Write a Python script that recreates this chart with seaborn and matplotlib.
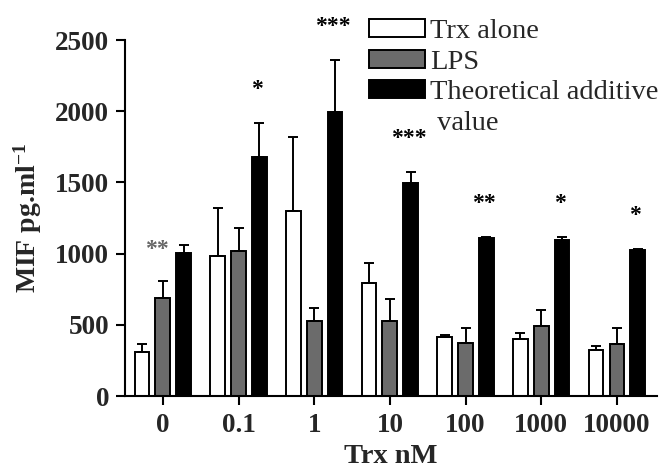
import pandas as pd
import seaborn as sns
import matplotlib.pyplot as plt
from matplotlib.patches import Patch


concentrations = ["0", "0.1", "1", "10", "100", "1000", "10000"]
groups = ["Trx alone", "LPS", "Theoretical additive"]
legend_extra = " value"

trx_alone = [311, 983, 1299, 791, 417, 400, 325]
trx_alone_err = [52, 339, 520, 141, 9, 40, 28]
lps = [690, 1018, 527, 527, 374, 492, 367]
lps_err = [115, 164, 89, 154, 106, 114, 113]
additive = [1006, 1680, 1996, 1493, 1107, 1096, 1025]
additive_err = [52, 235, 364, 82, 8, 21, 6]

stars = ["**", "*", "***", "***", "**", "*", "*"]


sns.set_theme(style="ticks")
plt.rcParams["font.family"] = ["Liberation Serif", "DejaVu Serif"]
plt.rcParams["mathtext.fontset"] = "custom"
plt.rcParams["mathtext.rm"] = "Liberation Serif:bold"
plt.rcParams["mathtext.it"] = "Liberation Serif:bold"
plt.rcParams["mathtext.bf"] = "Liberation Serif:bold"

df = pd.DataFrame({
    "conc": concentrations * 3,
    "MIF": trx_alone + lps + additive,
    "group": [groups[0]] * 7 + [groups[1]] * 7 + [groups[2]] * 7,
})
errors = [trx_alone_err, lps_err, additive_err]
colors = ["white", "#6b6b6b", "black"]

fig = plt.figure(figsize=(6.7, 4.72), dpi=100)
ax = fig.add_axes([0.1866, 0.161, 0.794, 0.754])

sns.barplot(data=df, x="conc", y="MIF", hue="group", palette=colors,
            order=concentrations, hue_order=groups, width=0.825, gap=0.29,
            edgecolor="black", linewidth=1.4, errorbar=None, ax=ax)

# upper error bars only
for cont, err in zip(ax.containers, errors):
    xs = [p.get_x() + p.get_width() / 2 for p in cont.patches]
    ys = [p.get_height() for p in cont.patches]
    ax.errorbar(xs, ys, yerr=[[0] * len(err), err], fmt="none",
                ecolor="black", elinewidth=1.4, capsize=3.5, capthick=1.4,
                zorder=1)

# significance stars over the additive bars
black_bars = ax.containers[2].patches
gray_bars = ax.containers[1].patches
for i, s in enumerate(stars):
    if i == 0:
        x = gray_bars[i].get_x() + gray_bars[i].get_width() / 2 - 0.08
        ax.text(x, additive[i] + 25, s, ha="center", va="center",
                fontsize=17, fontweight="bold", color="#666666")
    else:
        x = black_bars[i].get_x() + black_bars[i].get_width() / 2 - 0.03
        ax.text(x, additive[i] + additive_err[i] + 235, s, ha="center",
                va="center", fontsize=17, fontweight="bold", color="black",
                clip_on=False)

ax.set_xlim(-0.5, 6.53)
ax.set_ylim(0, 2500)
ax.set_yticks([0, 500, 1000, 1500, 2000, 2500])
ax.set_xlabel("Trx nM", fontsize=20.5, fontweight="bold", labelpad=4)
ax.set_ylabel("MIF pg.ml$^{-1}$", fontsize=20, fontweight="bold", labelpad=8)
ax.tick_params(axis="both", labelsize=19.5, width=1.5, length=6.5, color="black")
ax.tick_params(axis="y", pad=5)
ax.tick_params(axis="x", pad=6)
for lab in ax.get_xticklabels() + ax.get_yticklabels():
    lab.set_fontweight("bold")

sns.despine(ax=ax)
for sp in ["left", "bottom"]:
    ax.spines[sp].set_linewidth(1.5)
    ax.spines[sp].set_color("black")

# second line of the last legend label gets an empty handle
handles, labels = ax.get_legend_handles_labels()
handles.append(Patch(facecolor="none", edgecolor="none"))
labels.append(legend_extra)
ax.legend(handles, labels, loc="upper left", bbox_to_anchor=(0.459, 1.06),
          frameon=False, fontsize=20.5, handlelength=1.95, handleheight=0.6,
          handletextpad=0.2, labelspacing=0.2, borderaxespad=0,
          borderpad=0)

plt.savefig("out.png", dpi=100)
